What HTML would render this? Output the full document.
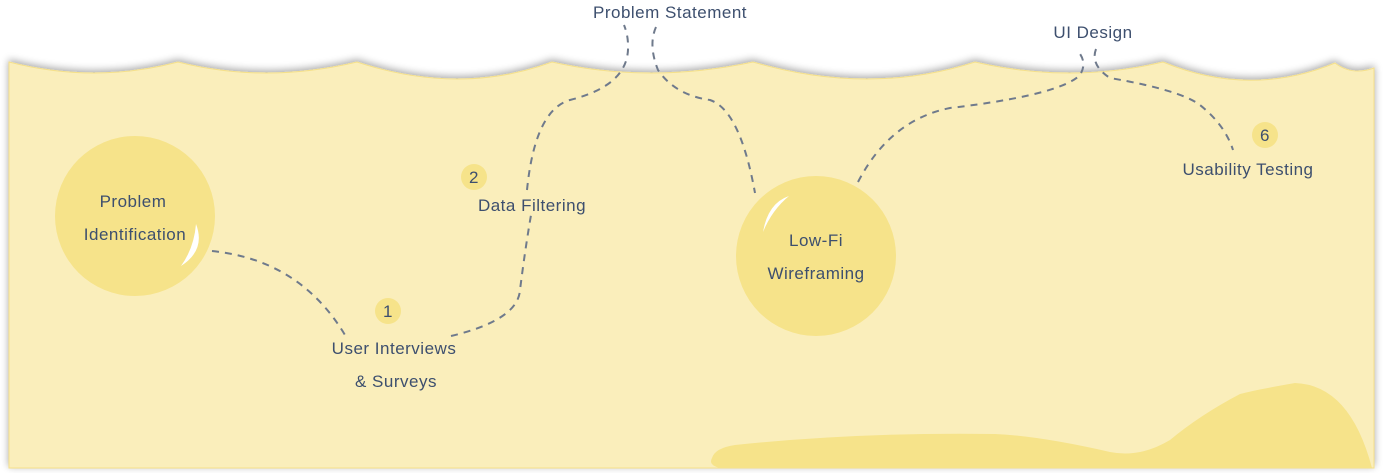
<!DOCTYPE html>
<html><head><meta charset="utf-8"><style>
html,body{margin:0;padding:0;background:#fff;}
svg{display:block;}
text{font-family:"Liberation Sans",sans-serif;fill:#3d4f6e;font-size:17px;letter-spacing:0.5px;}
</style></head><body>
<svg width="1384" height="473" viewBox="0 0 1384 473" xmlns="http://www.w3.org/2000/svg">
<defs>
<filter id="sh" x="-5%" y="-20%" width="110%" height="140%"><feGaussianBlur in="SourceAlpha" stdDeviation="4"/><feOffset dy="-2"/><feComponentTransfer><feFuncA type="linear" slope="0.35"/></feComponentTransfer><feMerge><feMergeNode/><feMergeNode in="SourceGraphic"/></feMerge></filter>
</defs>
<path filter="url(#sh)" d="M9 62 Q95 84 178 62 Q265 84 357 62 Q460 96 552 62 Q650 84 753 62 Q870 96 975 62 Q1070 84 1163 62 Q1250 98 1335 63 Q1352 76 1374 68 L1374 468 L9 468 Z" fill="#faeebb" stroke="#f5e08a" stroke-width="1"/>
<path d="M712 458 Q715 448 735 445 Q860 432 995 434 Q1040 436 1110 452 Q1140 458 1170 440 Q1200 415 1240 394 Q1255 390 1295 383 Q1350 385 1372 468 L720 468 Q708 465 712 458 Z" fill="#f6e38a"/>
<circle cx="135" cy="216" r="80" fill="#f6e38a"/>
<circle cx="816" cy="256" r="80" fill="#f6e38a"/>
<path d="M196 224 Q206 250 181 266 Q194 248 196 224 Z" fill="#fff"/>
<path d="M789 196 Q768 203 763 232 Q772 210 789 196 Z" fill="#fff"/>
<g fill="none" stroke="#6f7a8c" stroke-width="2" stroke-dasharray="7 6">
<path d="M212 251 Q300 260 345 335"/>
<path d="M451 336 Q518 320 520 290 Q525 250 531 215"/>
<path d="M527 190 Q535 110 570 100 Q630 85 628 45 Q628 35 624 25"/>
<path d="M656 27 Q648 45 658 70 Q675 95 710 100 Q740 110 755 193"/>
<path d="M858 182 Q890 120 950 108 Q1060 95 1080 75 Q1088 62 1077 50"/>
<path d="M1096 49 Q1090 65 1110 78 Q1180 90 1200 105 Q1225 125 1233 150"/>
</g>
<circle cx="388" cy="311" r="13" fill="#f6e38a"/>
<circle cx="474" cy="177" r="13" fill="#f6e38a"/>
<circle cx="1265" cy="135" r="13" fill="#f6e38a"/>
<text x="388" y="317" text-anchor="middle">1</text>
<text x="474" y="183" text-anchor="middle">2</text>
<text x="1265" y="141" text-anchor="middle">6</text>
<text x="133" y="207" text-anchor="middle">Problem</text>
<text x="135" y="240" text-anchor="middle">Identification</text>
<text x="816" y="246" text-anchor="middle">Low-Fi</text>
<text x="816" y="279" text-anchor="middle">Wireframing</text>
<text x="394" y="354" text-anchor="middle">User Interviews</text>
<text x="396" y="387" text-anchor="middle">&amp; Surveys</text>
<text x="532" y="211" text-anchor="middle">Data Filtering</text>
<text x="670" y="18" text-anchor="middle">Problem Statement</text>
<text x="1093" y="38" text-anchor="middle">UI Design</text>
<text x="1248" y="175" text-anchor="middle">Usability Testing</text>
</svg>
</body></html>
